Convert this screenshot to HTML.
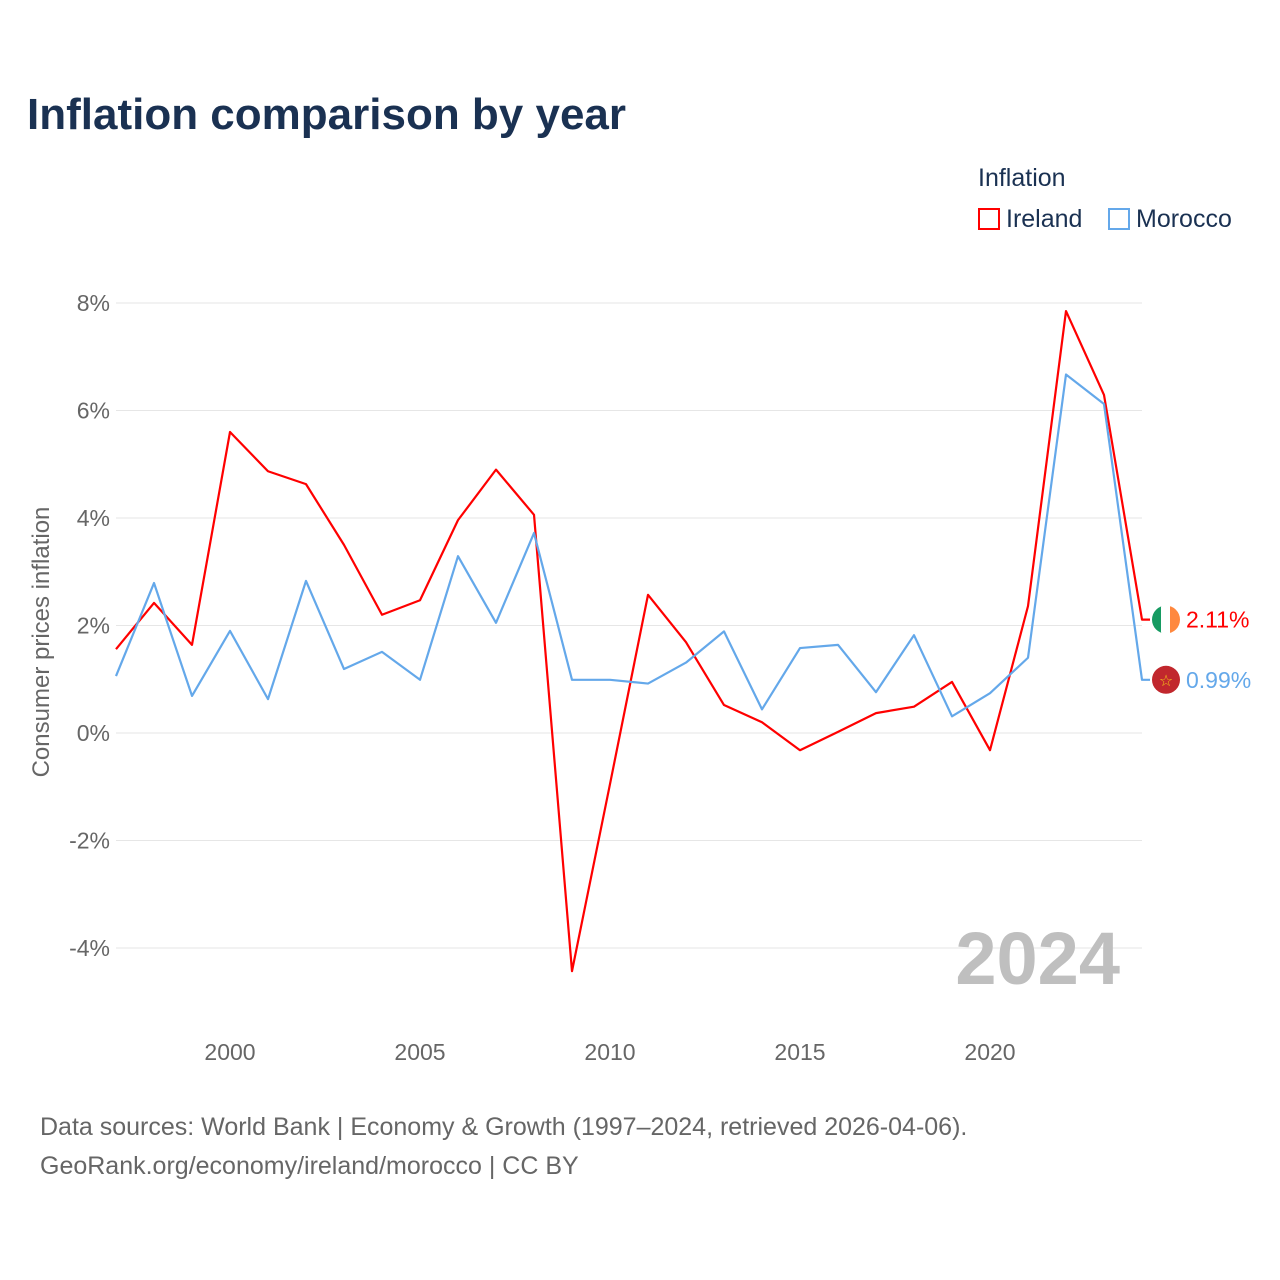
<!DOCTYPE html>
<html><head><meta charset="utf-8"><style>
body{margin:0;background:#fff;font-family:"Liberation Sans",sans-serif;}
#wrap{position:relative;width:1280px;height:1280px;overflow:hidden;}
.t{position:absolute;white-space:nowrap;}
</style></head><body>
<div id="wrap">
<div class="t" style="left:27px;top:90px;font-size:44px;font-weight:bold;color:#1a3152;">Inflation comparison by year</div>
<div class="t" style="left:978px;top:164px;font-size:25px;color:#1a3152;">Inflation</div>
<div class="t" style="left:978px;top:205px;font-size:25px;color:#1a3152;"><span style="display:inline-block;width:22px;height:22px;border:2px solid #f00;box-sizing:border-box;vertical-align:-3px;margin-right:6px;background:#fff"></span>Ireland</div>
<div class="t" style="left:1108px;top:205px;font-size:25px;color:#1a3152;"><span style="display:inline-block;width:22px;height:22px;border:2px solid #64a8ea;box-sizing:border-box;vertical-align:-3px;margin-right:6px;background:#fff"></span>Morocco</div>
<div class="t" style="left:42px;top:642px;font-size:24px;color:#666;transform:translate(-50%,-50%) rotate(-90deg);">Consumer prices inflation</div>
<div class="t" style="left:40px;top:1108px;font-size:25px;color:#666;line-height:39px;">Data sources: World Bank | Economy &amp; Growth (1997–2024, retrieved 2026-04-06).<br>GeoRank.org/economy/ireland/morocco | CC BY</div>
<svg id="chart" width="1280" height="1280" style="position:absolute;left:0;top:0"></svg>
</div>
<script>
const years=[1997,1998,1999,2000,2001,2002,2003,2004,2005,2006,2007,2008,2009,2010,2011,2012,2013,2014,2015,2016,2017,2018,2019,2020,2021,2022,2023,2024];
const ireland=[1.56,2.42,1.64,5.6,4.87,4.63,3.5,2.2,2.47,3.96,4.9,4.06,-4.43,-0.95,2.57,1.69,0.52,0.2,-0.32,0.02,0.37,0.49,0.95,-0.32,2.36,7.85,6.29,2.11];
const morocco=[1.06,2.79,0.69,1.9,0.63,2.83,1.19,1.51,0.99,3.29,2.05,3.72,0.99,0.99,0.92,1.31,1.89,0.44,1.58,1.64,0.76,1.82,0.31,0.74,1.4,6.67,6.12,0.99];
const yTicks=[-4,-2,0,2,4,6,8];
const xTicks=[2000,2005,2010,2015,2020];
const X=y=>116+(y-1997)*38;
const Y=v=>733-v*53.75;
const svg=document.getElementById('chart');const NS='http://www.w3.org/2000/svg';
function mk(tag,attrs,parent){const e=document.createElementNS(NS,tag);for(const k in attrs)e.setAttribute(k,attrs[k]);(parent||svg).appendChild(e);return e;}
yTicks.forEach(v=>{
 const l=mk('line',{x1:116,x2:1142,y1:Y(v),y2:Y(v),stroke:'#e6e6e6','stroke-width':1});
 
 
 const t=mk('text',{x:110,y:Y(v)+8,'text-anchor':'end','font-size':23,fill:'#666','font-family':'Liberation Sans, sans-serif'});
 t.textContent=v+'%';
 
 
});
xTicks.forEach(y=>{
 const t=mk('text',{x:X(y),y:1060,'text-anchor':'middle','font-size':23,fill:'#666','font-family':'Liberation Sans, sans-serif'});
 t.textContent=y;
 
 
});
const yr=mk('text',{x:1120,y:984,'text-anchor':'end','font-size':74,'font-weight':'bold',fill:'#bfbfbf','font-family':'Liberation Sans, sans-serif'});
yr.textContent='2024';


function series(vals,color,name){
 const pts=vals.map((v,i)=>X(years[i])+','+Y(v)).join(' ');
 const last=vals[vals.length-1];
 const p=mk('polyline',{points:pts+' '+(X(2024)+8)+','+Y(last),fill:'none',stroke:color,'stroke-width':2.2,'stroke-linejoin':'round'});
 
 
 const lbl=mk('text',{x:1186,y:Y(last)+8,'font-size':23,fill:color,'font-family':'Liberation Sans, sans-serif'});
 lbl.textContent=last.toFixed(2)+'%';
 
 
}
series(ireland,'#f00','ireland');
series(morocco,'#64a8ea','morocco');
// flags
const iy=Y(ireland[ireland.length-1]);
const fi=mk('g',{});


mk('clipPath',{id:'ci'},fi);mk('circle',{cx:1166,cy:iy,r:14},document.getElementById('ci'));
mk('rect',{x:1152,y:iy-14,width:10,height:28,fill:'#169b62','clip-path':'url(#ci)'},fi);
mk('rect',{x:1161,y:iy-14,width:10,height:28,fill:'#fff','clip-path':'url(#ci)'},fi);
mk('rect',{x:1170,y:iy-14,width:10,height:28,fill:'#ff883e','clip-path':'url(#ci)'},fi);
const my=Y(morocco[morocco.length-1]);
const fm=mk('g',{});


mk('circle',{cx:1166,cy:my,r:14,fill:'#c1272d'},fm);
const st=mk('text',{x:1166,y:my+6,'text-anchor':'middle','font-size':16,fill:'#f5c518','font-family':'DejaVu Sans, sans-serif'},fm);
st.textContent='☆';
</script>
</body></html>
